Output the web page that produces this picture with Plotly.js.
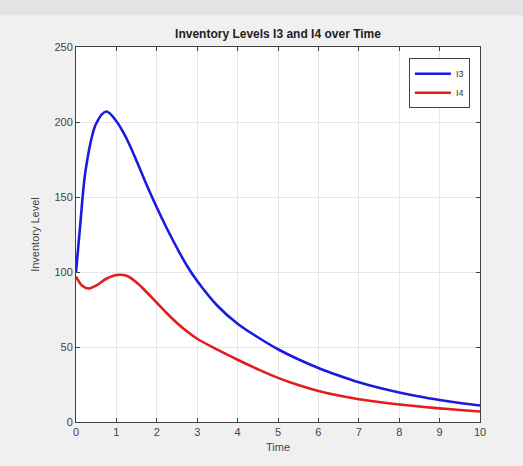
<!DOCTYPE html>
<html>
<head>
<meta charset="utf-8">
<script src="https://cdn.plot.ly/plotly-3.0.1.min.js"></script>
<style>html,body{margin:0;padding:0;background:#f0f0f0;}#chart{width:523px;height:466px;}</style>
</head>
<body>
<div id="chart"></div>
<script>
const timeI3 = [0, 0.1, 0.25, 0.5, 0.75, 1.0, 1.25, 1.5, 1.75, 2.0, 2.25, 2.5, 2.75, 3.0, 3.5, 4.0, 4.5, 5.0, 5.5, 6.0, 6.5, 7.0, 7.5, 8.0, 8.5, 9.0, 9.5, 10];
const valuesI3 = [100, 130, 170, 199, 207, 200.5, 189, 174, 158, 143, 129, 116, 104, 94, 77.5, 65.5, 56.5, 48.5, 41.8, 36, 31, 26.5, 22.8, 19.7, 17, 14.7, 12.7, 11];
const timeI4 = [0, 0.15, 0.3, 0.5, 0.75, 1.0, 1.25, 1.5, 1.75, 2.0, 2.25, 2.5, 2.75, 3.0, 3.5, 4.0, 4.5, 5.0, 5.5, 6.0, 6.5, 7.0, 7.5, 8.0, 8.5, 9.0, 9.5, 10];
const valuesI4 = [97, 91, 89, 91, 95.5, 98, 97.5, 93, 86.5, 79.5, 72.5, 66, 60.3, 55.5, 48.2, 41.5, 35.2, 29.4, 24.6, 20.7, 17.6, 15.2, 13.3, 11.7, 10.3, 9.1, 8, 7];
const seriesNames = ["I3", "I4"];
const xTicks = [0, 1, 2, 3, 4, 5, 6, 7, 8, 9, 10];
const yTicks = [0, 50, 100, 150, 200, 250];

const traces = [
  {x: timeI3, y: valuesI3, name: seriesNames[0], type: "scatter", mode: "lines",
   line: {color: "#1a1ae0", width: 2.6, shape: "spline", smoothing: 1}},
  {x: timeI4, y: valuesI4, name: seriesNames[1], type: "scatter", mode: "lines",
   line: {color: "#e41c1c", width: 2.6, shape: "spline", smoothing: 1}}
];

const FONT = "Liberation Sans, Arial, sans-serif";
const axisCommon = {
  showline: true, linecolor: "#404040", linewidth: 1, mirror: "allticks",
  ticks: "inside", ticklen: 4, tickcolor: "#404040",
  showgrid: true, gridcolor: "#e6e6e6", gridwidth: 1, zeroline: false,
  tickfont: {family: FONT, size: 11, color: "#444"}
};

const layout = {
  width: 523, height: 466,
  paper_bgcolor: "#f0f0f0", plot_bgcolor: "#ffffff",
  margin: {l: 76, r: 43, t: 47, b: 44},
  title: {text: "<b>Inventory Levels I3 and I4 over Time</b>", x: 0.5, xref: "paper", y: 0.928, yanchor: "middle",
          font: {family: FONT, size: 12, color: "#222"}},
  xaxis: Object.assign({}, axisCommon, {range: [0, 10], tickvals: xTicks,
          title: {text: "Time", standoff: 6, font: {family: FONT, size: 11, color: "#444"}}}),
  yaxis: Object.assign({}, axisCommon, {range: [0, 250], tickvals: yTicks,
          title: {text: "Inventory Level", standoff: 12, font: {family: FONT, size: 11, color: "#444"}}}),
  legend: {x: 0.975, y: 0.97, xanchor: "right", yanchor: "top", bgcolor: "#ffffff",
           bordercolor: "#404040", borderwidth: 1, font: {family: FONT, size: 9, color: "#333"},
           itemwidth: 36, tracegroupgap: 0},
  shapes: [{type: "rect", xref: "paper", yref: "paper", x0: -0.2, x1: 1.2, y0: 1.085, y1: 1.2,
            fillcolor: "#e4e4e4", line: {width: 0}, layer: "below"}],
  showlegend: true
};

Plotly.newPlot("chart", traces, layout, {displayModeBar: false, staticPlot: true});
</script>
</body>
</html>
